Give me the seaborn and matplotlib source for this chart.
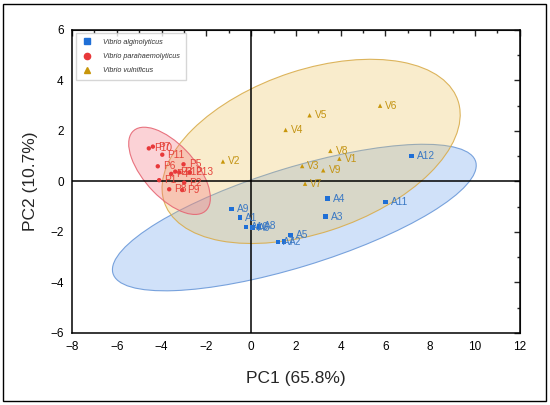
import matplotlib
matplotlib.use("Agg")
import matplotlib.pyplot as plt
from matplotlib.patches import Ellipse, Rectangle
from matplotlib.ticker import MultipleLocator
from matplotlib.lines import Line2D
import seaborn as sns
import pandas as pd

# ---- data ----
alg_labels = ["A1", "A2", "A3", "A4", "A5", "A6", "A7", "A8", "A9", "A10", "A11", "A12"]
alg_pc1 = [-0.49, 1.46, 3.32, 3.42, 1.76, 0.06, 1.20, 0.34, -0.88, -0.24, 6.01, 7.17]
alg_pc2 = [-1.43, -2.38, -1.39, -0.68, -2.11, -1.83, -2.41, -1.78, -1.09, -1.80, -0.82, 1.00]

para_labels = ["P1", "P2", "P3", "P4", "P5", "P6", "P7", "P8", "P9", "P10", "P11", "P12", "P13"]
para_pc1 = [-4.11, -2.99, -3.39, -3.57, -3.02, -4.17, -4.39, -3.66, -3.08, -4.57, -3.97, -3.21, -2.75]
para_pc2 = [0.05, -0.05, 0.39, 0.30, 0.68, 0.60, 1.38, -0.31, -0.34, 1.31, 1.06, 0.36, 0.36]

vul_labels = ["V1", "V2", "V3", "V4", "V5", "V6", "V7", "V8", "V9"]
vul_pc1 = [3.94, -1.26, 2.28, 1.54, 2.61, 5.76, 2.41, 3.54, 3.22]
vul_pc2 = [0.90, 0.79, 0.61, 2.04, 2.62, 3.00, -0.09, 1.21, 0.44]

species = ["Vibrio alginolyticus", "Vibrio parahaemolyticus", "Vibrio vulnificus"]

# confidence ellipses (centre x, centre y, width, height, angle)
ell_alg = (1.93, -1.43, 16.8, 3.95, 15.1)
ell_para = (-3.645, 0.42, 4.53, 2.18, -42.5)
ell_vul = (2.68, 1.19, 13.73, 6.49, 16.0)

x_ticks = [-8, -6, -4, -2, 0, 2, 4, 6, 8, 10, 12]
y_ticks = [-6, -4, -2, 0, 2, 4, 6]

# ---- styling ----
pt_colors = {species[0]: "#1f6fd6", species[1]: "#e8383a", species[2]: "#c8960a"}
lab_colors = {species[0]: "#3a78c4", species[1]: "#e5443c", species[2]: "#c39312"}
markers = {species[0]: "s", species[1]: "o", species[2]: "^"}

df = pd.concat([
    pd.DataFrame({"PC1": alg_pc1, "PC2": alg_pc2, "label": alg_labels, "species": species[0]}),
    pd.DataFrame({"PC1": para_pc1, "PC2": para_pc2, "label": para_labels, "species": species[1]}),
    pd.DataFrame({"PC1": vul_pc1, "PC2": vul_pc2, "label": vul_labels, "species": species[2]}),
], ignore_index=True)

sns.set_style("white")
plt.rcParams["font.family"] = ["Liberation Sans", "DejaVu Sans"]

fig = plt.figure(figsize=(5.5, 4.05), dpi=100)
ax = fig.add_axes([0.131, 0.178, 0.814, 0.748])

# ellipses
for (cx, cy, w, h, ang), fc, ec in [
    (ell_alg, (0.45, 0.65, 0.93, 0.33), (0.42, 0.6, 0.85, 0.9)),
    (ell_vul, (0.93, 0.76, 0.35, 0.30), (0.85, 0.68, 0.3, 0.9)),
    (ell_para, (0.96, 0.45, 0.50, 0.32), (0.9, 0.4, 0.45, 0.9)),
]:
    ax.add_patch(Ellipse((cx, cy), w, h, angle=ang, facecolor=fc, edgecolor=ec, lw=0.8, zorder=1))

ax.axhline(0, color="black", lw=1.1, zorder=2)
ax.axvline(0, color="black", lw=1.1, zorder=2)

sns.scatterplot(data=df, x="PC1", y="PC2", hue="species", style="species",
                palette=pt_colors, markers=markers, s=10, linewidth=0, ax=ax,
                legend=False, zorder=3)

for _, r in df.iterrows():
    ax.annotate(r["label"], (r["PC1"], r["PC2"]), xytext=(3.8, 0), textcoords="offset points",
                va="center", ha="left", fontsize=7.3, color=lab_colors[r["species"]], zorder=4)

# legend
handles = [Line2D([], [], ls="none", marker=markers[s], color=pt_colors[s], markersize=4.5) for s in species]
leg = ax.legend(handles, species, loc="upper left", bbox_to_anchor=(0.008, 0.99), borderaxespad=0,
                frameon=True, fancybox=False, edgecolor="#cccccc",
                prop={"style": "italic", "size": 5.2}, handletextpad=1.5, borderpad=0.8,
                labelspacing=1.0, handlelength=1.5)
for t in leg.get_texts():
    t.set_color("#333333")

ax.set_xlim(-8, 12)
ax.set_ylim(-6, 6)
ax.set_xticks(x_ticks)
ax.set_yticks(y_ticks)
ax.set_xticklabels([str(v).replace("-", "\u2212") for v in x_ticks])
ax.set_yticklabels([str(v).replace("-", "\u2212") for v in y_ticks])
ax.xaxis.set_minor_locator(MultipleLocator(1))
ax.yaxis.set_minor_locator(MultipleLocator(1))
ax.tick_params(which="major", direction="out", length=4, width=1, labelsize=8.5, colors="black", pad=2)
ax.tick_params(which="minor", direction="out", length=2, width=1)
for sp in ax.spines.values():
    sp.set_color("black")
    sp.set_linewidth(1.1)

secx = ax.secondary_xaxis("top")
secx.set_xticks(x_ticks)
secx.xaxis.set_minor_locator(MultipleLocator(1))
secx.tick_params(which="both", direction="in", labeltop=False)
secx.tick_params(which="major", length=4, width=1)
secx.tick_params(which="minor", length=2, width=1)
secy = ax.secondary_yaxis("right")
secy.set_yticks(y_ticks)
secy.yaxis.set_minor_locator(MultipleLocator(1))
secy.tick_params(which="both", direction="in", labelright=False)
secy.tick_params(which="major", length=4, width=1)
secy.tick_params(which="minor", length=2, width=1)

ax.set_xlabel("PC1 (65.8%)", fontsize=12.5, labelpad=13)
ax.set_ylabel("PC2 (10.7%)", fontsize=12.5, labelpad=9)

fig.patches.append(Rectangle((3 / 550, 4 / 405), 543 / 550, 397 / 405, transform=fig.transFigure,
                             fill=False, edgecolor="black", lw=1.0))

fig.savefig("out.png", dpi=100)
